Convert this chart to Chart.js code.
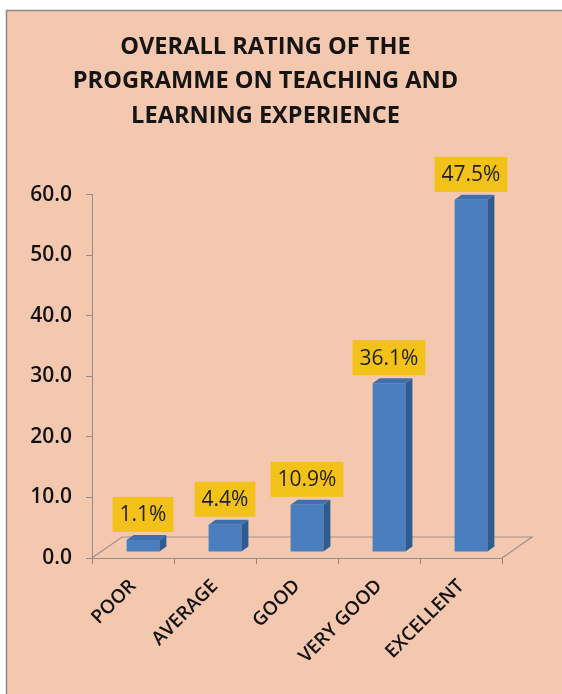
<!DOCTYPE html>
<html><head><meta charset="utf-8">
<script src="https://cdn.jsdelivr.net/npm/chart.js@4/dist/chart.umd.min.js"></script>
<style>html,body{margin:0;padding:0;background:#fff;} canvas{display:block;}</style>
</head><body>
<canvas id="c" width="562" height="694"></canvas>
<script>
const categories = ['POOR', 'AVERAGE', 'GOOD', 'VERY GOOD', 'EXCELLENT'];
const values = [2.0, 4.5, 7.8, 27.9, 58.2];
const valueLabels = ['1.1%', '4.4%', '10.9%', '36.1%', '47.5%'];
const yTicks = [0, 10, 20, 30, 40, 50, 60];
const titleLines = ['OVERALL RATING OF THE', 'PROGRAMME ON TEACHING AND', 'LEARNING EXPERIENCE'];

const PEACH = '#F4C8AF';
const SHIFT = {x: 10, y: -6};   // bars sit inside the 3D floor
const FACE = {x: 7, y: -5};     // bar depth
const FLOOR = {x: 30, y: -21};  // floor depth

const panelPlugin = {
  id: 'panel',
  beforeDraw(chart) {
    const ctx = chart.ctx;
    ctx.save();
    ctx.fillStyle = '#fff';
    ctx.fillRect(0, 0, chart.width, chart.height);
    ctx.fillStyle = PEACH;
    ctx.fillRect(6, 10, chart.width - 6, chart.height - 10);
    ctx.strokeStyle = '#8a8a8a';
    ctx.lineWidth = 1.5;
    ctx.beginPath();
    ctx.moveTo(6.5, chart.height); ctx.lineTo(6.5, 10.5); ctx.lineTo(chart.width, 10.5);
    ctx.stroke();
    ctx.restore();
  }
};

const bar3dPlugin = {
  id: 'bar3d',
  beforeDatasetsDraw(chart) {
    const ctx = chart.ctx, a = chart.chartArea;
    ctx.save();
    ctx.strokeStyle = '#a0928b';
    ctx.lineWidth = 1.2;
    ctx.beginPath();
    ctx.moveTo(a.left, a.bottom);
    ctx.lineTo(a.left + FLOOR.x, a.bottom + FLOOR.y);
    ctx.lineTo(a.right + FLOOR.x, a.bottom + FLOOR.y);
    ctx.lineTo(a.right, a.bottom);
    ctx.stroke();
    ctx.restore();
    ctx.save();
    ctx.translate(SHIFT.x, SHIFT.y);
  },
  afterDatasetsDraw(chart) {
    const ctx = chart.ctx;
    const meta = chart.getDatasetMeta(0);
    meta.data.forEach((bar, i) => {
      const L = bar.x - bar.width / 2, R = bar.x + bar.width / 2, T = bar.y, B = bar.base;
      ctx.fillStyle = '#2D5C92';
      ctx.beginPath();
      ctx.moveTo(R, T); ctx.lineTo(R + FACE.x, T + FACE.y); ctx.lineTo(R + FACE.x, B + FACE.y); ctx.lineTo(R, B);
      ctx.closePath(); ctx.fill();
      ctx.fillStyle = '#3E70AE';
      ctx.beginPath();
      ctx.moveTo(L, T); ctx.lineTo(L + FACE.x, T + FACE.y); ctx.lineTo(R + FACE.x, T + FACE.y); ctx.lineTo(R, T);
      ctx.closePath(); ctx.fill();
    });
    ctx.font = '21px "Open Sans"';
    ctx.textAlign = 'center';
    ctx.textBaseline = 'middle';
    meta.data.forEach((bar, i) => {
      const txt = valueLabels[i];
      const w = ctx.measureText(txt).width + 14, h = 35;
      const cx = bar.x, bottom = bar.y + FACE.y - 3;
      ctx.fillStyle = '#F3C21A';
      ctx.fillRect(cx - w / 2, bottom - h, w, h);
      ctx.fillStyle = '#1f1f1f';
      ctx.fillText(txt, cx, bottom - h / 2 + 1);
    });
    ctx.restore();
  }
};

new Chart(document.getElementById('c'), {
  type: 'bar',
  data: {
    labels: categories,
    datasets: [{
      data: values,
      backgroundColor: '#4A7EBF',
      borderWidth: 0,
      barPercentage: 0.4,
      categoryPercentage: 1.0,
      clip: false
    }]
  },
  options: {
    responsive: false,
    animation: false,
    events: [],
    layout: {padding: {left: 29, right: 60, top: 30, bottom: 0}},
    plugins: {
      legend: {display: false},
      tooltip: {enabled: false},
      title: {
        display: true,
        text: titleLines,
        color: '#151515',
        font: {family: 'Open Sans', size: 23.6, weight: 'bold', lineHeight: 1.46},
        padding: {top: 0, bottom: 61.6}
      }
    },
    scales: {
      x: {
        grid: {display: true, drawOnChartArea: false, drawTicks: true, tickLength: 6, color: '#8f8580', offset: true},
        border: {display: true, color: '#9a8e88'},
        ticks: {color: '#111', font: {family: 'Open Sans', size: 19, weight: '600'}, minRotation: 45, maxRotation: 45, padding: 11},
        afterFit(s) { s.height = 136; }
      },
      y: {
        min: 0, max: 60,
        afterBuildTicks(s) { s.ticks = yTicks.map(v => ({value: v})); },
        ticks: {callback: v => Number(v).toFixed(1), color: '#111', font: {family: 'Open Sans', size: 21, weight: '600'}, padding: 14},
        grid: {drawOnChartArea: false, tickLength: 6, color: '#8f8f8f'},
        border: {color: '#8f8f8f'},
        afterFit(s) { s.width = 63; }
      }
    }
  },
  plugins: [panelPlugin, bar3dPlugin]
});
</script>
</body></html>
